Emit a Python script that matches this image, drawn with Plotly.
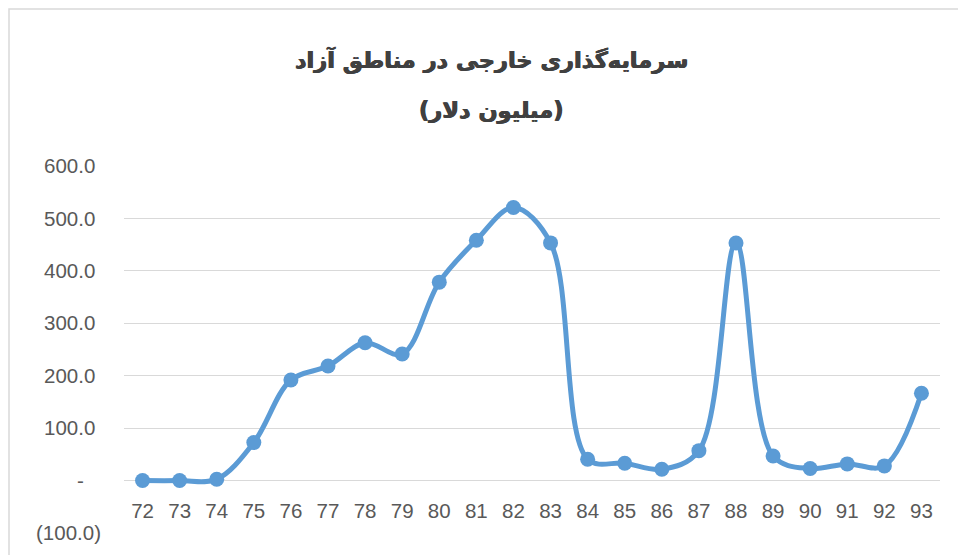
import plotly.graph_objects as go

years = ["72", "73", "74", "75", "76", "77", "78", "79", "80", "81", "82",
         "83", "84", "85", "86", "87", "88", "89", "90", "91", "92", "93"]
investment = [0.0, 0.0, 2.5, 72.4, 191.8, 218.5, 262.9, 241.3, 378.5, 458.5, 520.8,
              453.3, 40.8, 33.1, 21.7, 57.1, 453.0, 47.0, 22.9, 31.8, 28.0, 166.5]
y_ticks = [-100, 0, 100, 200, 300, 400, 500, 600]
title_line1 = "سرمایه‌گذاری خارجی در مناطق آزاد"
title_line2 = "(میلیون دلار)"

NB = "\u00a0"


def acct(v):
    if v == 0:
        return "-" + NB * 3
    if v < 0:
        return "({:.1f})".format(-v)
    return "{:.1f}".format(v) + NB


W, H = 958, 555
L, R, T, B = 124, 18, 166, 22
pw, ph = W - L - R, H - T - B

fig = go.Figure()
fig.add_trace(go.Scatter(
    x=years, y=investment, mode="lines+markers",
    line=dict(color="#5b9bd5", width=5, shape="spline", smoothing=1),
    marker=dict(color="#5b9bd5", size=15),
    showlegend=False, hoverinfo="x+y",
))

ymin, ymax = y_ticks[0], y_ticks[-1]
title_font = dict(family="DejaVu Sans", size=22.5, color="#404040",
                  shadow="0.5px 0 0 #404040, -0.5px 0 0 #404040")
fig.update_layout(
    width=W, height=H,
    margin=dict(l=L, r=R, t=T, b=B),
    paper_bgcolor="white", plot_bgcolor="white",
    font=dict(family="Liberation Sans, Arial, sans-serif", color="#595959", size=20),
    xaxis=dict(
        type="category", range=[-0.5, len(years) - 0.5],
        showgrid=False, showline=False, zeroline=False,
        ticks="", anchor="free", position=(0 - ymin) / (ymax - ymin),
        ticklabelstandoff=16,
        tickfont=dict(size=20.5, color="#595959"),
    ),
    yaxis=dict(
        range=[ymin, ymax], tickvals=y_ticks, ticktext=[acct(v) for v in y_ticks],
        showgrid=True, gridcolor="#d9d9d9", gridwidth=1.3,
        zeroline=False, showline=False, ticks="",
        ticklabelstandoff=22,
        tickfont=dict(size=20.5, color="#595959"),
    ),
    shapes=[dict(
        type="rect", xref="paper", yref="paper",
        x0=(9 - L) / pw, x1=(W + 20 - L) / pw,
        y0=-(B + 20) / ph, y1=(H - 9 - B) / ph,
        line=dict(color="#d9d9d9", width=1.5), fillcolor="rgba(0,0,0,0)", layer="below",
    )],
    annotations=[
        dict(text="<b>" + title_line1 + "</b>", xref="paper", yref="paper",
             x=(491 - L) / pw, y=(H - 60 - B) / ph, xanchor="center", yanchor="middle",
             showarrow=False, font=title_font),
        dict(text="<b>" + title_line2 + "</b>", xref="paper", yref="paper",
             x=(491 - L) / pw, y=(H - 111 - B) / ph, xanchor="center", yanchor="middle",
             showarrow=False, font=title_font),
    ],
)

fig.write_html(
    "out.html",
    config={"displayModeBar": False},
    post_script="document.body.style.margin='0';document.body.style.overflow='hidden';",
)
